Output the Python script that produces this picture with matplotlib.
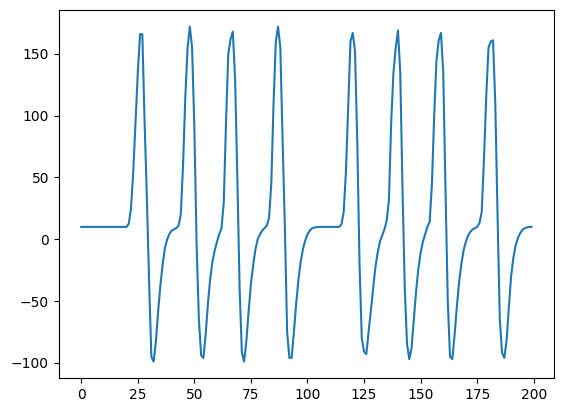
import matplotlib
matplotlib.use("Agg")
import matplotlib.pyplot as plt

# valores (una muestra por paso)
rest = [10.0] * 21  # muestras 0..20
spike_a = [12.5, 25, 55, 95, 135, 166, 166, 95, 35, -35, -95, -99, -83, -58, -37,
           -20, -7, 0, 4.5, 7, 8, 9, 11, 20, 60, 115, 155, 172, 155, 90, -5, -65,
           -94, -96, -77, -52, -32, -18, -9, -2, 4, 9, 30, 95, 150, 162, 168, 130,
           50, -40, -92, -99, -82, -58, -36, -21, -8, 0, 4, 7, 9, 11, 17, 45, 110,
           160, 172, 155, 80, 10, -75, -96, -96, -75, -52, -33, -18, -8, -1, 4, 7,
           8.8, 9.5, 9.8]  # muestras 21..104
rest_b = [10.0] * 10  # muestras 105..114
spike_b = [12, 22, 55, 108, 160, 167, 152, 80, -20, -80, -91, -93, -75, -58, -40,
           -23, -11, -2, 3, 8, 15, 32, 95, 135, 155, 169, 135, 40, -40, -85, -97,
           -88, -65, -42, -24, -11, -2, 4, 10, 14, 45, 100, 145, 161, 167, 135, 40,
           -50, -95, -97, -78, -55, -35, -20, -9, -2, 3, 6, 8, 9, 10, 13, 22, 65,
           115, 155, 160, 161, 110, 20, -65, -92, -96, -82, -55, -30, -15, -5, 1, 5,
           7.5, 9, 9.5, 10, 10]  # muestras 115..199

voltaje = rest + spike_a + rest_b + spike_b
tiempo = list(range(len(voltaje)))

fig = plt.figure(figsize=(5.63, 4.13), dpi=100)
ax = fig.add_axes([0.1043, 0.084, 0.8797, 0.8918])
ax.plot(tiempo, voltaje)
fig.savefig("out.png", dpi=100)
